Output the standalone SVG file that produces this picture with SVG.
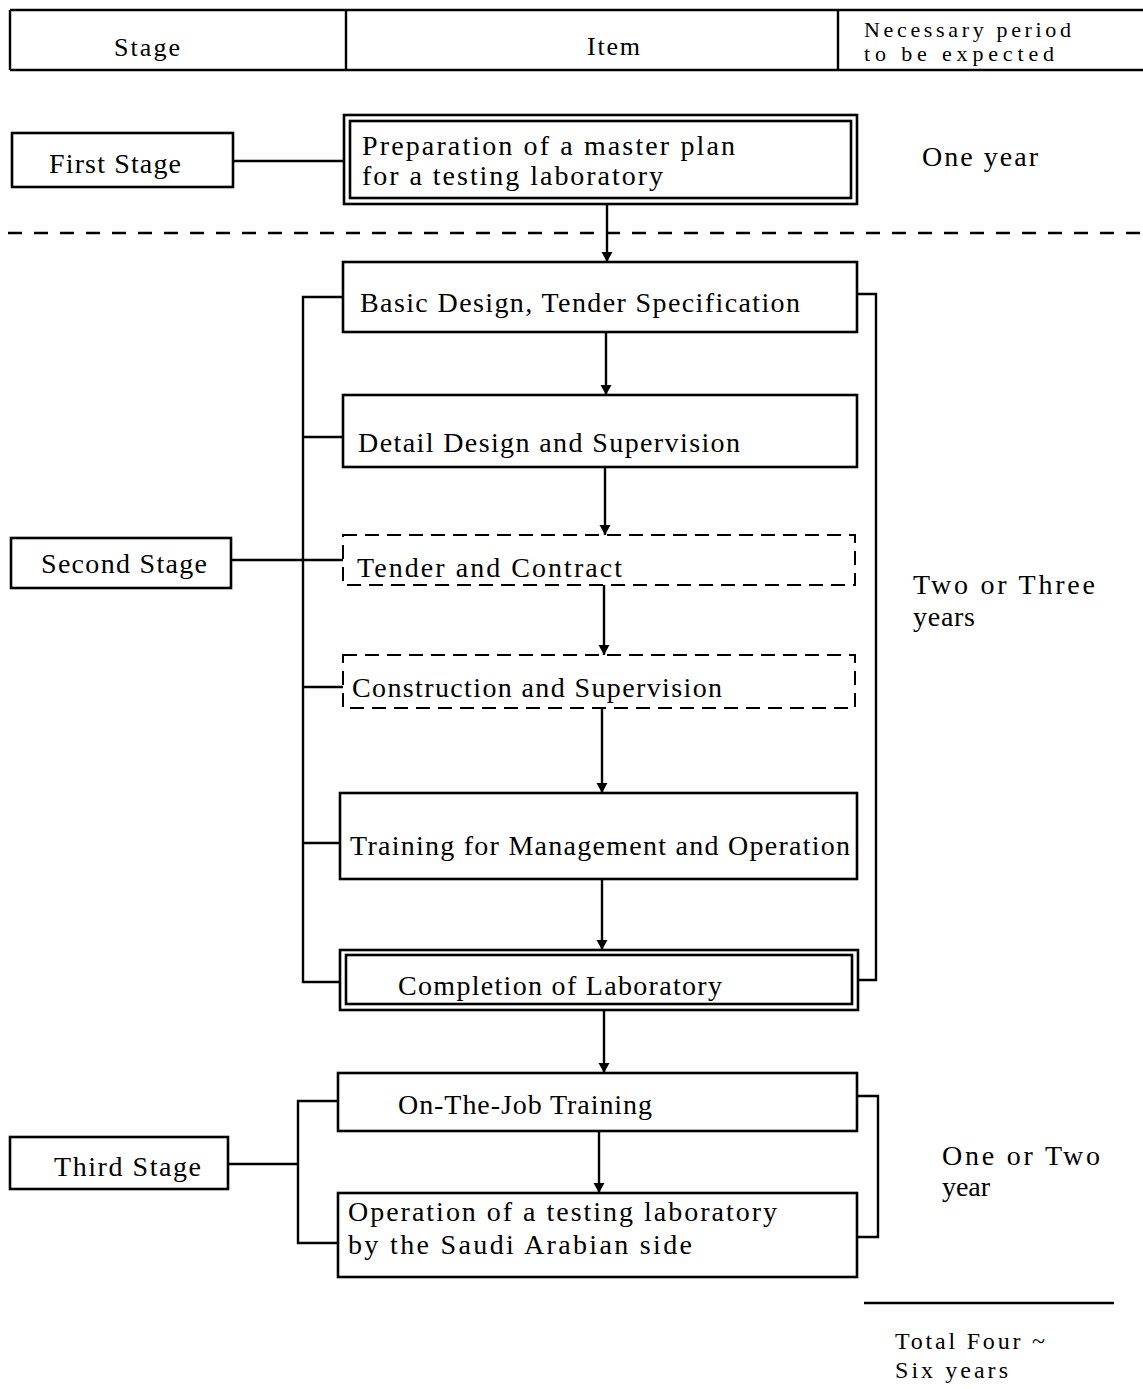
<svg xmlns="http://www.w3.org/2000/svg" width="1143" height="1389" viewBox="0 0 1143 1389">
<style>
.bx{fill:none;stroke:#000;stroke-width:2.6}
.dbx{fill:none;stroke:#000;stroke-width:2;stroke-dasharray:14 8}
.ln{fill:none;stroke:#000;stroke-width:2.4}
.t{font-family:"Liberation Serif","Times New Roman",serif;font-size:28px;fill:#000}
.h{font-family:"Liberation Serif","Times New Roman",serif;font-size:26px;fill:#000}
.s{font-family:"Liberation Serif","Times New Roman",serif;font-size:22px;fill:#000}
.m{font-family:"Liberation Serif","Times New Roman",serif;font-size:24px;fill:#000}
</style>
<defs>
<marker id="ah" viewBox="0 0 10 14" refX="10" refY="7" markerWidth="11" markerHeight="14" markerUnits="userSpaceOnUse" orient="auto">
<path d="M0,1.5 L10,7 L0,12.5 Z" fill="#000"/>
</marker>
</defs>
<rect width="1143" height="1389" fill="#fff"/>

<g id="header">
<path class="ln" d="M10,10 H1143 M10,70 H1143 M10,10 V70 M346,10 V70 M838,10 V70"/>
<text class="h" x="114" y="56" textLength="66">Stage</text>
<text class="h" x="587" y="55" textLength="53">Item</text>
<text class="s" x="864" y="37" textLength="207">Necessary period</text>
<text class="s" x="864" y="61" textLength="190">to be expected</text>
</g>

<g id="connectors">
<path class="ln" d="M233,161 H344"/>
<path class="ln" d="M8,233 H1143" stroke-dasharray="14 12" stroke-width="2"/>
<path class="ln" d="M343,297 H303 V982 H340 M303,437 H343 M231,560 H343 M303,687 H343 M303,843 H340"/>
<path class="ln" d="M857,294 H876 V980 H858"/>
<path class="ln" d="M228,1164 H298 M338,1101 H298 V1243 H338"/>
<path class="ln" d="M857,1096 H878 V1237 H857"/>
<path class="ln" d="M607,204 V262" marker-end="url(#ah)"/>
<path class="ln" d="M606,332 V395" marker-end="url(#ah)"/>
<path class="ln" d="M605,467 V535" marker-end="url(#ah)"/>
<path class="ln" d="M604,585 V655" marker-end="url(#ah)"/>
<path class="ln" d="M602,708 V793" marker-end="url(#ah)"/>
<path class="ln" d="M602,879 V950" marker-end="url(#ah)"/>
<path class="ln" d="M604,1010 V1073" marker-end="url(#ah)"/>
<path class="ln" d="M599,1131 V1193" marker-end="url(#ah)"/>
<path class="ln" d="M864,1303 H1114"/>
</g>

<g id="first-stage">
<rect class="bx" x="12" y="133" width="221" height="54"/>
<text class="t" x="49" y="173" textLength="132">First Stage</text>
</g>
<g id="master-plan">
<rect class="bx" x="344" y="115" width="513" height="89"/>
<rect class="bx" x="350" y="121" width="501" height="77"/>
<text class="t" x="362" y="155" textLength="373">Preparation of a master plan</text>
<text class="t" x="362" y="185" textLength="301">for a testing laboratory</text>
</g>
<g id="period-1">
<text class="t" x="922" y="166" textLength="116">One year</text>
</g>

<g id="second-stage">
<rect class="bx" x="11" y="538" width="220" height="50"/>
<text class="t" x="41" y="573" textLength="166">Second Stage</text>
</g>
<g id="basic-design">
<rect class="bx" x="343" y="262" width="514" height="70"/>
<text class="t" x="360" y="312" textLength="440">Basic Design, Tender Specification</text>
</g>
<g id="detail-design">
<rect class="bx" x="343" y="395" width="514" height="72"/>
<text class="t" x="358" y="452" textLength="382">Detail Design and Supervision</text>
</g>
<g id="tender">
<rect class="dbx" x="343" y="535" width="512" height="50"/>
<text class="t" x="357" y="577" textLength="265">Tender and Contract</text>
</g>
<g id="construction">
<rect class="dbx" x="343" y="655" width="512" height="53"/>
<text class="t" x="352" y="697" textLength="370">Construction and Supervision</text>
</g>
<g id="training">
<rect class="bx" x="340" y="793" width="517" height="86"/>
<text class="t" x="350" y="855" textLength="500">Training for Management and Operation</text>
</g>
<g id="completion">
<rect class="bx" x="340" y="950" width="518" height="60"/>
<rect class="bx" x="346" y="955" width="506" height="49"/>
<text class="t" x="398" y="995" textLength="324">Completion of Laboratory</text>
</g>
<g id="period-2">
<text class="t" x="913" y="594" textLength="182">Two or Three</text>
<text class="t" x="913" y="626" textLength="62">years</text>
</g>

<g id="third-stage">
<rect class="bx" x="10" y="1137" width="218" height="52"/>
<text class="t" x="54" y="1176" textLength="147">Third Stage</text>
</g>
<g id="ojt">
<rect class="bx" x="338" y="1073" width="519" height="58"/>
<text class="t" x="398" y="1114" textLength="254">On-The-Job Training</text>
</g>
<g id="operation">
<rect class="bx" x="338" y="1193" width="519" height="84"/>
<text class="t" x="348" y="1221" textLength="429">Operation of a testing laboratory</text>
<text class="t" x="348" y="1254" textLength="344">by the Saudi Arabian side</text>
</g>
<g id="period-3">
<text class="t" x="942" y="1165" textLength="158">One or Two</text>
<text class="t" x="942" y="1196" textLength="48">year</text>
</g>

<g id="total">
<text class="m" x="895" y="1349" textLength="150">Total Four ~</text>
<text class="m" x="895" y="1378" textLength="113">Six years</text>
</g>
</svg>
